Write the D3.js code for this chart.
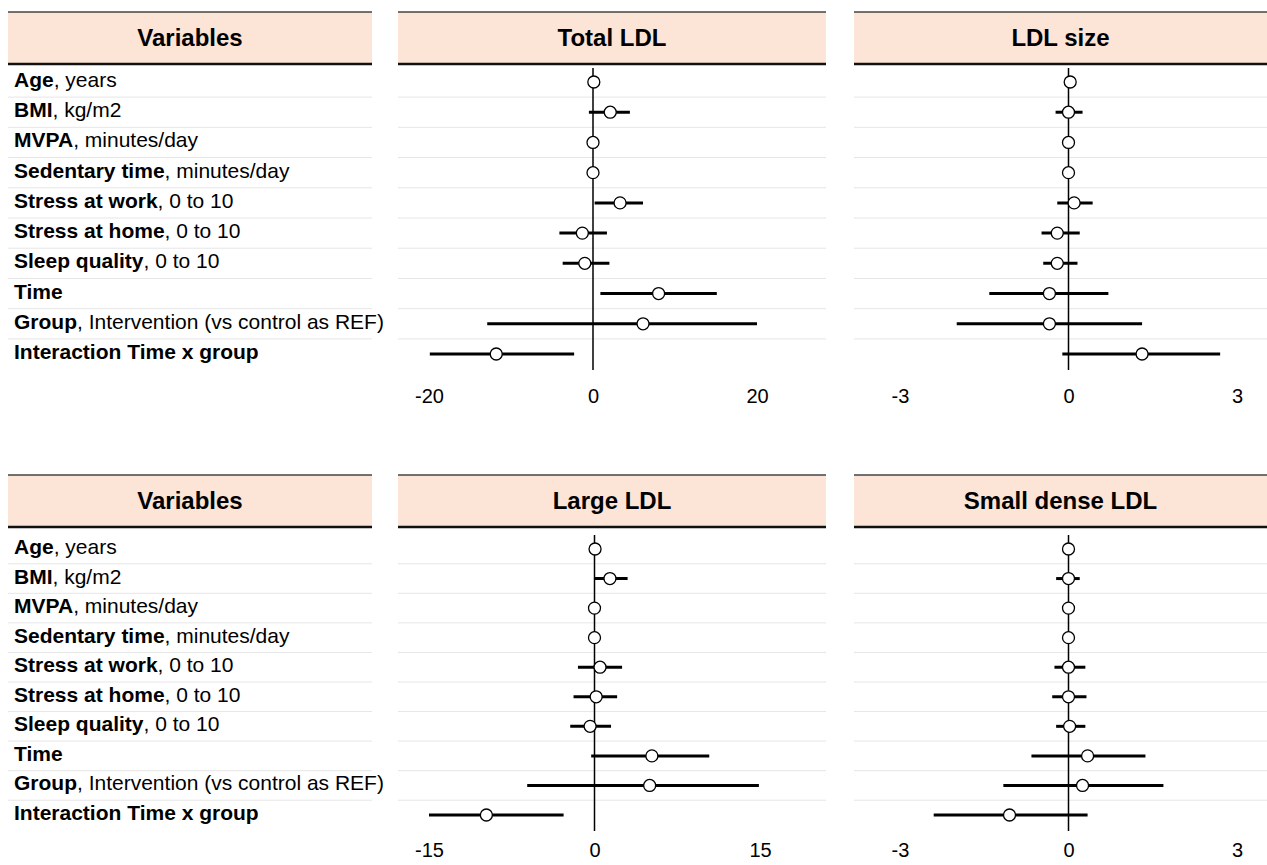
<!DOCTYPE html>
<html>
<head>
<meta charset="utf-8">
<script src="https://cdn.jsdelivr.net/npm/d3@7"></script>
<style>
  body { margin: 0; background: #fff; }
  text { font-family: "Liberation Sans", Arial, sans-serif; }
</style>
</head>
<body>
<div id="chart"></div>
<script>
// row labels: bold part + regular part
var varBold = ["Age", "BMI", "MVPA", "Sedentary time", "Stress at work", "Stress at home",
               "Sleep quality", "Time", "Group", "Interaction Time x group"]
var varUnit = [", years", ", kg/m2", ", minutes/day", ", minutes/day", ", 0 to 10", ", 0 to 10",
               ", 0 to 10", "", ", Intervention (vs control as REF)", ""]

var outcomes = ["Total LDL", "LDL size", "Large LDL", "Small dense LDL"]

// estimates and 95% CI
var totalEst = [0.1, 2.1, 0, 0, 3.3, -1.3, -1.0, 8.0, 6.1, -11.8]
var totalLo  = [-0.6, -0.5, 0, 0, 0.2, -4.1, -3.7, 0.9, -12.9, -19.9]
var totalHi  = [0.7, 4.5, 0, 0, 6.1, 1.7, 2.0, 15.1, 20.0, -2.3]

var sizeEst = [0.03, 0, 0, 0, 0.1, -0.2, -0.2, -0.34, -0.34, 1.31]
var sizeLo  = [0, -0.23, 0, 0, -0.2, -0.48, -0.45, -1.41, -1.99, -0.11]
var sizeHi  = [0, 0.25, 0, 0, 0.43, 0.2, 0.16, 0.71, 1.31, 2.7]

var largeEst = [0.05, 1.4, 0, 0, 0.5, 0.15, -0.4, 5.2, 5.0, -9.8]
var largeLo  = [-0.4, 0, 0, 0, -1.5, -1.9, -2.2, -0.3, -6.1, -15.0]
var largeHi  = [0.1, 3.0, 0, 0, 2.5, 2.05, 1.5, 10.4, 14.9, -2.8]

var sdEst = [0, 0, 0, 0, 0, 0, 0.02, 0.34, 0.25, -1.05]
var sdLo  = [0, -0.22, 0, 0, -0.25, -0.29, -0.22, -0.66, -1.16, -2.4]
var sdHi  = [0, 0.2, 0, 0, 0.3, 0.32, 0.3, 1.37, 1.69, 0.34]

var ticksTotal = [-20, 0, 20]
var ticksSize  = [-3, 0, 3]
var ticksLarge = [-15, 0, 15]
var ticksSd    = [-3, 0, 3]

var width = 1267, height = 865
var svg = d3.select("#chart").append("svg")
    .attr("width", width)
    .attr("height", height)

var cols = [[8, 372], [398, 826], [854, 1267]]

var blocks = [
  { top: 12, rows: [82, 354], axisY: 380, panels: [
      { title: outcomes[0], est: totalEst, lo: totalLo, hi: totalHi, ticks: ticksTotal, range: [429, 757] },
      { title: outcomes[1], est: sizeEst, lo: sizeLo, hi: sizeHi, ticks: ticksSize, range: [900, 1237] } ] },
  { top: 475, rows: [549, 815], axisY: 834, panels: [
      { title: outcomes[2], est: largeEst, lo: largeLo, hi: largeHi, ticks: ticksLarge, range: [429, 760] },
      { title: outcomes[3], est: sdEst, lo: sdLo, hi: sdHi, ticks: ticksSd, range: [900, 1237] } ] }
]

function header(g, x0, x1, top, title) {
  g.append("rect")
    .attr("x", x0).attr("y", top)
    .attr("width", x1 - x0).attr("height", 52)
    .attr("fill", "#fce4d6")
  g.append("line")
    .attr("x1", x0).attr("x2", x1).attr("y1", top).attr("y2", top)
    .attr("stroke", "#444").attr("stroke-width", 1.3)
  g.append("line")
    .attr("x1", x0).attr("x2", x1).attr("y1", top + 52).attr("y2", top + 52)
    .attr("stroke", "#111").attr("stroke-width", 2.5)
  g.append("text")
    .attr("x", (x0 + x1) / 2).attr("y", top + 34)
    .attr("text-anchor", "middle")
    .style("font-size", "24px").style("font-weight", "bold")
    .text(title)
}

function rowLines(g, x0, x1, y) {
  var mids = d3.pairs(varBold).map(function(p) { return (y(p[0]) + y(p[1])) / 2 })
  g.selectAll("line.sep")
    .data(mids)
    .enter().append("line")
      .attr("class", "sep")
      .attr("x1", x0).attr("x2", x1)
      .attr("y1", function(d) { return d }).attr("y2", function(d) { return d })
      .attr("stroke", "#e6e6e6").attr("stroke-width", 1)
}

blocks.forEach(function(b) {
  var y = d3.scalePoint().domain(varBold).range(b.rows)
  var g = svg.append("g")

  // variables column
  header(g, cols[0][0], cols[0][1], b.top, "Variables")
  rowLines(g, cols[0][0], cols[0][1], y)
  var lab = g.selectAll("text.lab")
    .data(varBold)
    .enter().append("text")
      .attr("class", "lab")
      .attr("x", 14)
      .attr("y", function(d) { return y(d) + 5 })
      .style("font-size", "21px")
  lab.append("tspan").style("font-weight", "bold").text(function(d) { return d })
  lab.append("tspan").text(function(d, i) { return varUnit[i] })

  b.panels.forEach(function(p, k) {
    var c = cols[k + 1]
    var x = d3.scaleLinear().domain([p.ticks[0], p.ticks[2]]).range(p.range)
    var pg = svg.append("g")
    header(pg, c[0], c[1], b.top, p.title)
    rowLines(pg, c[0], c[1], y)

    pg.append("line")
      .attr("x1", x(0)).attr("x2", x(0))
      .attr("y1", b.rows[0] - 14).attr("y2", b.rows[1] + 16)
      .attr("stroke", "#000").attr("stroke-width", 1.5)

    pg.selectAll("line.ci")
      .data(varBold)
      .enter().append("line")
        .attr("class", "ci")
        .attr("x1", function(d, i) { return x(p.lo[i]) })
        .attr("x2", function(d, i) { return x(p.hi[i]) })
        .attr("y1", function(d) { return y(d) })
        .attr("y2", function(d) { return y(d) })
        .attr("stroke", "#000").attr("stroke-width", 3)

    pg.selectAll("circle")
      .data(varBold)
      .enter().append("circle")
        .attr("cx", function(d, i) { return x(p.est[i]) })
        .attr("cy", function(d) { return y(d) })
        .attr("r", 6)
        .attr("fill", "#fff").attr("stroke", "#000").attr("stroke-width", 1.3)

    var ax = pg.append("g")
      .attr("transform", "translate(0," + b.axisY + ")")
      .call(d3.axisBottom(x).tickValues(p.ticks).tickSize(0).tickPadding(9).tickFormat(d3.format("d")))
    ax.select(".domain").remove()
    ax.selectAll("text")
      .style("font-size", "20px")
      .style("font-family", "'Liberation Sans', Arial, sans-serif")
      .attr("fill", "#000")
      .text(function(d) { return d < 0 ? "-" + Math.abs(d) : d })
  })
})
</script>
</body>
</html>
